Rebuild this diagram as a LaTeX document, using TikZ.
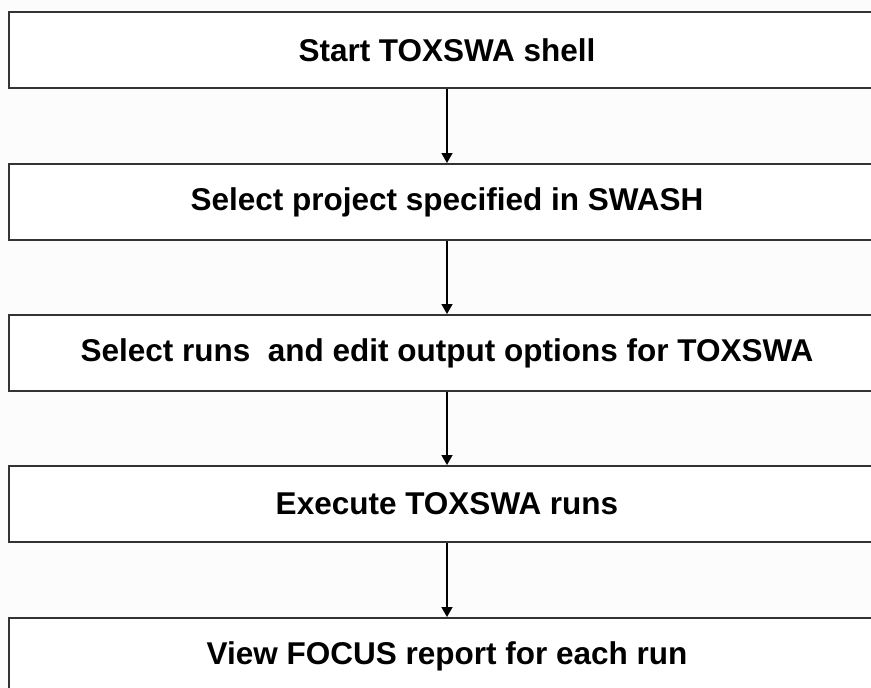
\documentclass[tikz,border=0pt]{standalone}
\usepackage{fontspec}
\setmainfont{Liberation Sans}
\usetikzlibrary{arrows.meta}
\begin{document}
\begin{tikzpicture}[x=1pt,y=-1pt,
  stepbox/.style={draw=black!80, line width=2pt, fill=white, minimum width=876pt, minimum height=76pt, inner sep=0pt, font=\bfseries\fontsize{31.5}{36}\selectfont},
  arr/.style={draw=black, line width=1.5pt, -{Triangle[width=11pt,length=10pt]}}]
\fill[white!99!black] (0,0) rectangle (871,688);
\useasboundingbox (0,0) rectangle (871,688);
\begin{scope}
\clip (0,0) rectangle (871,688);
\node[stepbox] (b1) at (447,50) {Start TOXSWA shell};
\node[stepbox] (b2) at (447,202) {Select project specified in SWASH};
\node[stepbox] (b3) at (447,353) {Select runs\ \ and edit output options for TOXSWA};
\node[stepbox] (b4) at (447,504) {Execute TOXSWA runs};
\node[stepbox] (b5) at (447,656) {View FOCUS report for each run};
\draw[arr] (b1.south) -- (b2.north);
\draw[arr] (b2.south) -- (b3.north);
\draw[arr] (b3.south) -- (b4.north);
\draw[arr] (b4.south) -- (b5.north);
\end{scope}
\end{tikzpicture}
\end{document}
